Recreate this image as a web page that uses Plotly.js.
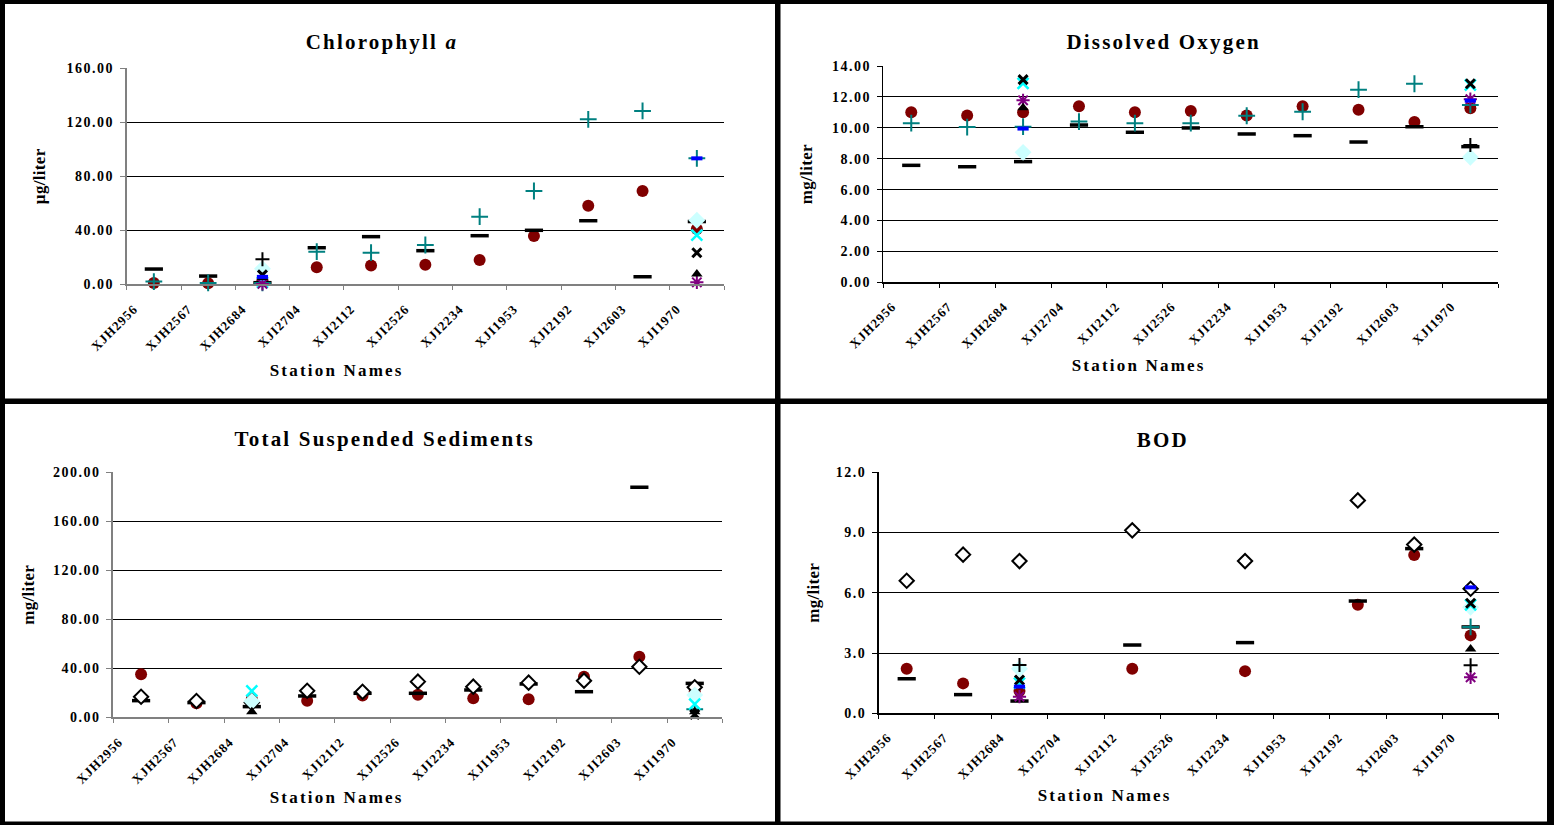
<!DOCTYPE html>
<html><head><meta charset="utf-8">
<script src="https://cdn.plot.ly/plotly-3.0.1.min.js"></script>
<style>
html,body{margin:0;padding:0;background:#fff;}
#chart{width:1554px;height:825px;}
.main-svg text{letter-spacing:1.5px;}
.main-svg .xtick text,.main-svg .x2tick text,.main-svg .x3tick text,.main-svg .x4tick text{letter-spacing:1px;}
.main-svg .ytick text,.main-svg .y2tick text,.main-svg .y3tick text,.main-svg .y4tick text{letter-spacing:1.5px;}
.main-svg .annotation-text{letter-spacing:2.2px;}
.main-svg .ytitle,.main-svg .y2title,.main-svg .y3title,.main-svg .y4title{letter-spacing:0.3px;}
</style></head><body><div id="chart"></div><script>
// ---------- data ----------
const stations = ["XJH2956","XJH2567","XJH2684","XJI2704","XJI2112","XJI2526","XJI2234","XJI1953","XJI2192","XJI2603","XJI1970"];
const seriesNames = ["Series 1","Series 2","Series 3","Series 4","Series 5","Series 6","Series 7","Series 8","Series 9","Series 10","Series 11"];
const N = null;

// Chlorophyll a (µg/liter)
const chl_s1  = [1.0, 0.8, 3.0, 12.6, 14.0, 14.5, 18.0, 35.8, 58.2, 69.1, 41.0];
const chl_s2  = [11.3, 6.1, 1.2, 27.1, 35.3, 24.9, 36.0, 40.0, 47.1, 5.6, 46.5];
const chl_s3  = [2.0, 1.0, 1.0, 24.2, 23.4, 29.1, 50.1, 69.1, 122.2, 128.4, 93.3];
const chl_s4  = [N,N,N,N,N,N,N,N,N,N,N];
const chl_s5  = [N,N,11.5,N,N,N,N,N,N,N,47.5];
const chl_s6  = [N,N,1.5,N,N,N,N,N,N,N,36.5];
const chl_s7  = [N,N,0.3,N,N,N,N,N,N,N,1.5];
const chl_s8  = [N,N,5.0,N,N,N,N,N,N,N,7.6];
const chl_s9  = [N,N,7.0,N,N,N,N,N,N,N,23.4];
const chl_s10 = [N,N,18.5,N,N,N,N,N,N,N,N];
const chl_s11 = [N,N,5.5,N,N,N,N,N,N,N,93.3];

// Dissolved Oxygen (mg/liter)
const do_s1  = [11.0, 10.8, 11.0, 11.39, 11.0, 11.09, 10.8, 11.39, 11.17, 10.37, 11.27];
const do_s2  = [7.57, 7.48, 7.81, 10.18, 9.71, 9.99, 9.6, 9.49, 9.08, 10.07, 8.78];
const do_s3  = [10.3, 10.05, 10.07, 10.4, 10.3, 10.3, 10.78, 11.04, 12.47, 12.85, 11.48];
const do_s4  = [N,N,N,N,N,N,N,N,N,N,N];
const do_s5  = [N,N,8.41,N,N,N,N,N,N,N,8.09];
const do_s6  = [N,N,12.88,N,N,N,N,N,N,N,12.77];
const do_s7  = [N,N,11.78,N,N,N,N,N,N,N,11.85];
const do_s8  = [N,N,11.3,N,N,N,N,N,N,N,N];
const do_s9  = [N,N,13.12,N,N,N,N,N,N,N,12.85];
const do_s10 = [N,N,N,N,N,N,N,N,N,N,8.88];
const do_s11 = [N,N,9.95,N,N,N,N,N,N,N,11.76];

// Total Suspended Sediments (mg/liter)
const tss_s1  = [35.1, 11.4, 15.0, 13.6, 17.7, 18.5, 15.5, 14.7, 33.2, 49.5, 21.0];
const tss_s2  = [13.6, 12.0, 8.7, 17.4, 19.6, 19.6, 22.3, 27.2, 20.9, 187.8, 27.7];
const tss_s3  = [N,N,N,N,N,N,N,N,N,N,6.5];
const tss_s4  = [16.8, 13.3, 12.0, 21.7, 20.9, 29.1, 25.0, 28.3, 29.9, 41.3, 24.5];
const tss_s5  = [N,N,13.0,N,N,N,N,N,N,N,18.2];
const tss_s6  = [N,N,21.5,N,N,N,N,N,N,N,10.8];
const tss_s7  = [N,N,N,N,N,N,N,N,N,N,N];
const tss_s8  = [N,N,4.6,N,N,N,N,N,N,N,4.6];
const tss_s9  = [N,N,N,N,N,N,N,N,N,N,2.4];
const tss_s10 = [N,N,N,N,N,N,N,N,N,N,N];
const tss_s11 = [N,N,N,N,N,N,N,N,N,N,N];

// BOD (mg/liter)
const bod_s1  = [2.22, 1.49, 1.11, N, 2.22, N, 2.1, N, 5.41, 7.88, 3.88];
const bod_s2  = [1.72, 0.93, 0.61, N, 3.4, N, 3.52, N, 5.59, 8.2, 4.3];
const bod_s3  = [N,N,N,N,N,N,N,N,N,N,4.3];
const bod_s4  = [6.6, 7.9, 7.58, N, 9.11, N, 7.58, N, 10.6, 8.4, 6.2];
const bod_s5  = [N,N,2.22,N,N,N,N,N,N,N,5.28];
const bod_s6  = [N,N,1.5,N,N,N,N,N,N,N,5.4];
const bod_s7  = [N,N,0.83,N,N,N,N,N,N,N,1.79];
const bod_s8  = [N,N,N,N,N,N,N,N,N,N,3.2];
const bod_s9  = [N,N,1.66,N,N,N,N,N,N,N,5.48];
const bod_s10 = [N,N,2.4,N,N,N,N,N,N,N,2.39];
const bod_s11 = [N,N,1.33,N,N,N,N,N,N,N,6.27];

// ---------- styles ----------
const markerStyles = [
  {symbol:'circle', size:12, color:'#800000', line:{width:0}},
  {symbol:'line-ew', size:13, color:'#000000', line:{width:3.5, color:'#000000'}},
  {symbol:'cross-thin', size:12, color:'#008080', line:{width:2, color:'#008080'}},
  {symbol:'diamond', size:11, color:'#ffffff', line:{width:2, color:'#000000'}},
  {symbol:'diamond', size:13, color:'#CCFFFF', line:{width:0}},
  {symbol:'x-thin', size:11, color:'#00FFFF', line:{width:2.5, color:'#00FFFF'}},
  {symbol:'asterisk', size:11, color:'#800080', line:{width:2, color:'#800080'}},
  {symbol:'triangle-up', size:10, color:'#000000', line:{width:0}},
  {symbol:'x-thin', size:9, color:'#000000', line:{width:3, color:'#000000'}},
  {symbol:'cross-thin', size:10, color:'#000000', line:{width:2, color:'#000000'}},
  {symbol:'line-ew', size:8, color:'#0000FF', line:{width:4, color:'#0000FF'}}
];

const charts = [
  {ax:'', series:[chl_s1,chl_s2,chl_s3,chl_s4,chl_s5,chl_s6,chl_s7,chl_s8,chl_s9,chl_s10,chl_s11]},
  {ax:'2', series:[do_s1,do_s2,do_s3,do_s4,do_s5,do_s6,do_s7,do_s8,do_s9,do_s10,do_s11]},
  {ax:'3', series:[tss_s1,tss_s2,tss_s3,tss_s4,tss_s5,tss_s6,tss_s7,tss_s8,tss_s9,tss_s10,tss_s11]},
  {ax:'4', series:[bod_s1,bod_s2,bod_s3,bod_s4,bod_s5,bod_s6,bod_s7,bod_s8,bod_s9,bod_s10,bod_s11]}
];

const traces = [];
charts.forEach(c => {
  c.series.forEach((vals, i) => {
    if (vals.every(v => v === null)) return;
    traces.push({
      type:'scatter', mode:'markers', name:seriesNames[i],
      x:stations, y:vals, xaxis:'x'+c.ax, yaxis:'y'+c.ax,
      marker:markerStyles[i], showlegend:false, cliponaxis:false
    });
  });
});

// ---------- layout ----------
const W = 1554, H = 825;
const px = v => v / W;
const py = v => 1 - v / H;
const FONT = 'Liberation Serif, Times New Roman, serif';

function xAxis(l, r, lineColor, lineWidth, shift) {
  return {
    domain:[px(l), px(r)], type:'category', categoryorder:'array', categoryarray:stations,
    range:[-0.5, 10.5], tickson:'boundaries', ticks:'outside', ticklen:4, tickwidth:1,
    tickcolor:lineColor, showline:true, linecolor:lineColor, linewidth:lineWidth,
    showgrid:false, zeroline:false, tickangle:-45, ticklabelshift:shift, ticklabelstandoff:10,
    tickfont:{family:FONT, size:13, weight:'bold', color:'#000'},
    fixedrange:true
  };
}
function yAxis(t, b, max, dtick, fmt, title, lineColor, lineWidth, standoff) {
  return {
    domain:[py(b), py(t)], range:[0, max], dtick:dtick, tick0:0, tickformat:fmt,
    showgrid:true, gridcolor:'#000000', gridwidth:1, zeroline:false,
    showline:true, linecolor:lineColor, linewidth:lineWidth,
    ticks:'outside', ticklen:5, tickcolor:lineColor, ticklabelstandoff:3,
    tickfont:{family:FONT, size:14, weight:'bold', color:'#000'},
    title:{text:title, font:{family:FONT, size:17, weight:'bold', color:'#000'}, standoff:standoff},
    fixedrange:true
  };
}

const titleFont = {family:FONT, size:21, weight:'bold', color:'#000'};
const axisTitleFont = {family:FONT, size:17, weight:'bold', color:'#000'};

const layout = {
  width:W, height:H, margin:{l:0, r:0, t:0, b:0},
  paper_bgcolor:'#ffffff', plot_bgcolor:'#ffffff', showlegend:false,
  xaxis:  Object.assign(xAxis(126.7, 724.0, '#808080', 2, -20), {anchor:'y'}),
  yaxis:  Object.assign(yAxis(68.3, 284.3, 160, 40, '.2f', 'µg/liter', '#808080', 2, 25), {anchor:'x'}),
  xaxis2: Object.assign(xAxis(883.3, 1498.3, '#000000', 1.5, -19), {anchor:'y2'}),
  yaxis2: Object.assign(yAxis(66.0, 282.3, 14, 2, '.2f', 'mg/liter', '#000000', 1.5, 22), {anchor:'x2'}),
  xaxis3: Object.assign(xAxis(113.4, 722.4, '#808080', 2, -22), {anchor:'y3'}),
  yaxis3: Object.assign(yAxis(472.3, 717.3, 200, 40, '.2f', 'mg/liter', '#808080', 2, 23), {anchor:'x3'}),
  xaxis4: Object.assign(xAxis(878.5, 1498.8, '#000000', 1.5, -19), {anchor:'y4'}),
  yaxis4: Object.assign(yAxis(472.3, 713.3, 12, 3, '.1f', 'mg/liter', '#000000', 1.5, 17), {anchor:'x4'}),
  annotations:[
    {text:'Chlorophyll <i>a</i>', x:px(382), y:py(41.7), font:titleFont},
    {text:'Dissolved Oxygen', x:px(1164), y:py(41.7), font:titleFont},
    {text:'Total Suspended Sediments', x:px(384), y:py(439), font:titleFont},
    {text:'BOD', x:px(1162.6), y:py(440), font:titleFont},
    {text:'Station Names', x:px(337), y:py(370.7), font:axisTitleFont},
    {text:'Station Names', x:px(1139), y:py(365.7), font:axisTitleFont},
    {text:'Station Names', x:px(337), y:py(797), font:axisTitleFont},
    {text:'Station Names', x:px(1104.7), y:py(795), font:axisTitleFont}
  ].map(a => Object.assign(a, {xref:'paper', yref:'paper', xanchor:'center', yanchor:'middle', showarrow:false})),
  shapes:[
    [0, 0, 1554, 4],        // top
    [0, 0, 5, 825],         // left
    [1547, 0, 1554, 825],   // right
    [0, 821.5, 1554, 825],  // bottom
    [775, 0, 780.5, 825],   // middle vertical
    [0, 398.5, 1554, 404]   // middle horizontal
  ].map(r => ({type:'rect', xref:'paper', yref:'paper', x0:px(r[0]), x1:px(r[2]), y0:py(r[3]), y1:py(r[1]),
      fillcolor:'#000000', line:{width:0}, layer:'above'}))
};

Plotly.newPlot('chart', traces, layout, {staticPlot:true, displayModeBar:false});
</script></body></html>
